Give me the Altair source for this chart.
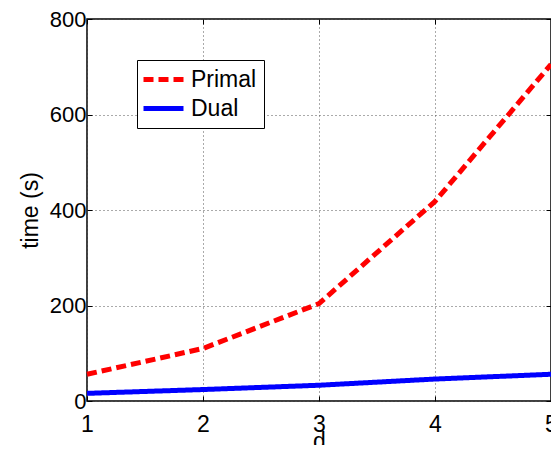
import altair as alt
import pandas as pd

d_values = [1, 2, 3, 4, 5]
primal = [56, 110, 204, 418, 705]
dual = [16, 24, 33, 46, 56]
series_names = ["Primal", "Dual"]
series_colors = ["#ff0000", "#0000ff"]
y_ticks = [0, 200, 400, 600, 800]

rows = []
for d, p in zip(d_values, primal):
    rows.append({"d": d, "time": p, "method": "Primal"})
for d, q in zip(d_values, dual):
    rows.append({"d": d, "time": q, "method": "Dual"})
df = pd.DataFrame(rows)

FONT = "Liberation Sans"
TK = 5  # inward tick length

xscale = alt.Scale(domain=[1, 5], nice=False, zero=False)
yscale = alt.Scale(domain=[0, 800], nice=False)

common = dict(domain=False, ticks=True, tickSize=TK, tickColor="black", tickWidth=1,
              offset=-TK, labelFont=FONT, titleFont=FONT, labelColor="black",
              titleColor="black", titleFontWeight="normal",
              gridColor="#555", gridDash=[1, 3], gridWidth=1)

lines = alt.Chart(df).mark_line(strokeWidth=5, strokeCap="butt").encode(
    x=alt.X("d:Q", title="d", scale=xscale,
            axis=alt.Axis(values=d_values, format="d", grid=True, labelFontSize=23,
                          titleFontSize=23, labelPadding=12, titlePadding=-6,
                          labelFlush=False, **common)),
    y=alt.Y("time:Q", title="time (s)", scale=yscale,
            axis=alt.Axis(values=y_ticks, grid=True, labelFontSize=22, titleFontSize=23,
                          labelPadding=1, titlePadding=7, **common)),
    color=alt.Color("method:N", title=None,
                    scale=alt.Scale(domain=series_names, range=series_colors),
                    legend=alt.Legend(orient="none", legendX=50, legendY=41,
                                      strokeColor="black", fillColor="white",
                                      padding=7, symbolType="M-1.3,0L2.7,0", symbolSize=400,
                                      symbolStrokeWidth=5, labelFontSize=23, labelFont=FONT,
                                      labelColor="black", labelOffset=22, rowPadding=4,
                                      cornerRadius=0)),
    strokeDash=alt.StrokeDash("method:N", title=None,
                              scale=alt.Scale(domain=series_names, range=[[10, 5], [1, 0]]),
                              legend=alt.Legend(orient="none", legendX=50, legendY=41)),
)

frame_ticks = alt.Chart(df).mark_point(opacity=0).encode(
    x=alt.X("d:Q", scale=xscale,
            axis=alt.Axis(orient="top", values=d_values, labels=False, title=None,
                          grid=False, domain=False, ticks=True, tickSize=TK,
                          tickColor="black", offset=-TK)),
    y=alt.Y("time:Q", scale=yscale,
            axis=alt.Axis(orient="right", values=y_ticks, labels=False, title=None,
                          grid=False, domain=False, ticks=True, tickSize=TK,
                          tickColor="black", offset=-TK)),
)

chart = alt.layer(lines, frame_ticks).resolve_axis(
    x="independent", y="independent"
).properties(
    width=464, height=382,
    autosize=alt.AutoSizeParams(type="none"),
    padding={"left": 79, "top": 11, "right": 0, "bottom": 44},
).configure_view(stroke="black", strokeWidth=1.5)

chart.save("out.html", embed_options={"renderer": "svg", "actions": False})
